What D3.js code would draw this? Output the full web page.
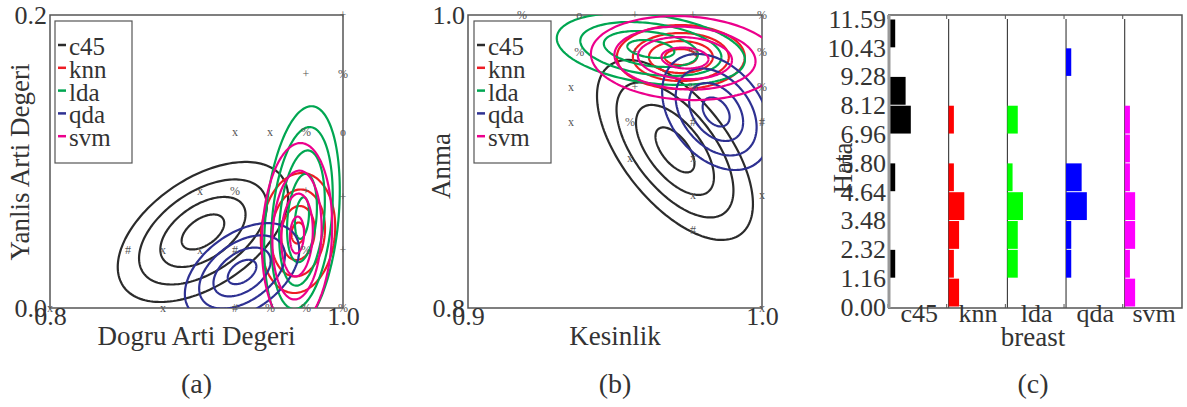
<!DOCTYPE html>
<html>
<head>
<meta charset="utf-8">
<script src="https://cdn.jsdelivr.net/npm/d3@7"></script>
<style>
  body { margin: 0; background: #fff; }
  svg text { font-family: "Liberation Serif", "Times New Roman", Tinos, "Nimbus Roman", "Noto Serif", "DejaVu Serif", serif; fill: #333; }
</style>
</head>
<body>
<svg id="chart" width="1187" height="407"></svg>
<script>
const classifiers = ["c45", "knn", "lda", "qda", "svm"];
const lineColors = ["#2b2b2b", "#ee1c24", "#00a651", "#2e3192", "#ec008c"];
const barColors = ["#000000", "#ff0000", "#00ff00", "#0000ff", "#ff00ff"];
const serif = '"Liberation Serif", "Times New Roman", Tinos, "Nimbus Roman", "Noto Serif", "DejaVu Serif", serif';

// (a) dogru arti / yanlis arti -- gaussian fit per classifier
const tprMean = [0.9044, 0.9693, 0.9720, 0.9311, 0.9686];
const fprMean = [0.0519, 0.0512, 0.0614, 0.0246, 0.0498];
const tprSd = [0.01454, 0.00635, 0.0060, 0.00976, 0.0060];
const fprSd = [0.01195, 0.01024, 0.01775, 0.00833, 0.0157];
const tprFprRho = [0.5, 0.1, 0.25, 0.45, 0.1];
const tprFprLevels = [[1, 2, 3, 4], [0.7, 1.8, 2.9, 4], [0.8, 1.7, 2.6, 3.5, 4.3], [1, 2, 3, 4], [0.8, 1.8, 2.8, 4]];
const tprFprPoints = [
    ["+", 1.0, 0.2], ["+", 0.9747, 0.16], ["%", 1.0, 0.16],
    ["x", 0.9263, 0.12], ["x", 0.9502, 0.12], ["%", 0.9747, 0.12], ["o", 1.0, 0.12],
    ["x", 0.9024, 0.08], ["%", 0.9263, 0.08], ["+", 0.9747, 0.08], ["+", 1.0, 0.076],
    ["#", 0.8532, 0.04], ["x", 0.8771, 0.04], ["x", 0.9024, 0.04], ["#", 0.9263, 0.04], ["%", 0.9747, 0.04], ["+", 1.0, 0.04],
    ["x", 0.8, 0], ["x", 0.8771, 0], ["#", 0.9263, 0], ["%", 0.9502, 0], ["%", 0.9747, 0], ["%", 1.0, 0]
];

// (b) kesinlik / anma
const precMean = [0.9704, 0.9724, 0.9622, 0.9844, 0.9738];
const recMean = [0.9079, 0.9713, 0.9768, 0.9338, 0.9706];
const precSd = [0.00663, 0.00544, 0.0080, 0.00459, 0.0080];
const recSd = [0.01536, 0.00546, 0.00614, 0.0099, 0.00717];
const precRecRho = [-0.6, 0, -0.3, -0.35, -0.1];
const precRecLevels = [[1, 2, 3, 4], [1, 2, 3, 4], [1, 2, 3, 4], [1, 2, 3, 4], [1, 2, 3, 4]];
const precRecPoints = [
    ["%", 0.9184, 1.0], ["o", 0.9378, 1.0], ["+", 0.9568, 1.0], ["+", 0.9765, 1.0], ["%", 1.0, 1.0],
    ["%", 0.9378, 0.9747], ["+", 0.9568, 0.9747], ["%", 0.9765, 0.9747], ["%", 1.0, 0.9747],
    ["x", 0.935, 0.951], ["+", 0.9568, 0.951], ["%", 0.9765, 0.951], ["%", 1.0, 0.951],
    ["x", 0.935, 0.927], ["%", 0.9551, 0.927], ["#", 0.9765, 0.927], ["#", 1.0, 0.927],
    ["x", 0.9551, 0.9024], ["x", 0.9765, 0.9024],
    ["x", 0.9765, 0.8771], ["x", 1.0, 0.8771],
    ["#", 0.9765, 0.8532],
    ["x", 1.0, 0.8]
];

// (c) hata histogram (breast), counts per bin from bottom
const hataEdges = [0.00, 1.16, 2.32, 3.48, 4.64, 5.80, 6.96, 8.12, 9.28, 10.43, 11.59];
const hataC45 = [0, 1, 0, 0, 1, 0, 4, 3, 0, 1];
const hataKnn = [2, 1, 2, 3, 1, 0, 1, 0, 0, 0];
const hataLda = [0, 2, 2, 3, 1, 0, 2, 0, 0, 0];
const hataQda = [0, 1, 1, 4, 3, 0, 0, 0, 1, 0];
const hataSvm = [2, 1, 2, 2, 1, 1, 1, 0, 0, 0];
const hataCounts = [hataC45, hataKnn, hataLda, hataQda, hataSvm];

const svg = d3.select("#chart");

function ellipsePoints(mx, my, sx, sy, rho, k) {
    const pts = [];
    const r = Math.sqrt(1 - rho * rho);
    for (let i = 0; i <= 160; i++) {
        const t = i / 160 * 2 * Math.PI;
        pts.push([mx + k * sx * Math.cos(t), my + k * sy * (rho * Math.cos(t) + r * Math.sin(t))]);
    }
    return pts;
}

function styleAxis(a) {
    a.attr("font-family", serif).attr("font-size", 26);
    a.select(".domain").remove();
    a.selectAll("text").attr("fill", "#333");
}

function drawEllipsePanel(p) {
    const x = d3.scaleLinear().domain(p.xDomain).range([p.left, p.right]);
    const y = d3.scaleLinear().domain(p.yDomain).range([p.bottom, p.top]);
    const g = svg.append("g");

    g.append("clipPath").attr("id", p.id)
        .append("rect")
        .attr("x", p.left).attr("y", p.top)
        .attr("width", p.right - p.left).attr("height", p.bottom - p.top);

    g.append("rect")
        .attr("x", p.left).attr("y", p.top)
        .attr("width", p.right - p.left).attr("height", p.bottom - p.top)
        .attr("fill", "none").attr("stroke", "#555").attr("stroke-width", 1.5);

    const line = d3.line().x(d => x(d[0])).y(d => y(d[1]));
    const plot = g.append("g").attr("clip-path", `url(#${p.id})`);

    classifiers.forEach((c, i) => {
        p.levels[i].forEach(k => {
            plot.append("path")
                .attr("d", line(ellipsePoints(p.mx[i], p.my[i], p.sx[i], p.sy[i], p.rho[i], k)))
                .attr("fill", "none")
                .attr("stroke", lineColors[i])
                .attr("stroke-width", 2.2);
        });
    });

    g.selectAll("text.mark").data(p.points).join("text")
        .attr("class", "mark")
        .attr("x", d => x(d[1])).attr("y", d => y(d[2]))
        .attr("dy", "0.35em")
        .attr("text-anchor", "middle")
        .style("font-size", "12px").style("fill", "#555")
        .text(d => d[0]);

    // end ticks only
    const ax = g.append("g").attr("transform", `translate(0,${p.bottom})`)
        .call(d3.axisBottom(x).tickValues(p.xDomain).tickSize(0).tickPadding(-1)
            .tickFormat(d3.format(".1f")));
    const ay = g.append("g").attr("transform", `translate(${p.left},0)`)
        .call(d3.axisLeft(y).tickValues(p.yDomain).tickSize(0).tickPadding(3)
            .tickFormat(d3.format(".1f")));
    styleAxis(ax);
    styleAxis(ay);

    g.append("text")
        .attr("x", (p.left + p.right) / 2).attr("y", 345)
        .attr("text-anchor", "middle").style("font-size", "27px")
        .text(p.xTitle);
    g.append("text")
        .attr("transform", `translate(${p.yTitleX},${p.yTitleY}) rotate(-90)`)
        .attr("text-anchor", "middle").style("font-size", "27px")
        .text(p.yTitle);
    g.append("text")
        .attr("x", (p.left + p.right) / 2).attr("y", 393)
        .attr("text-anchor", "middle").style("font-size", "28px")
        .text(p.caption);

    // legend
    const lg = g.append("g").attr("transform", `translate(${p.legendX},21)`);
    lg.append("rect").attr("width", 77).attr("height", 142)
        .attr("fill", "#fff").attr("stroke", "#555").attr("stroke-width", 1.2);
    classifiers.forEach((c, i) => {
        const by = 34 + i * 22.8;
        lg.append("line")
            .attr("x1", 3).attr("x2", 11).attr("y1", by - 10).attr("y2", by - 10)
            .attr("stroke", lineColors[i]).attr("stroke-width", 2.5);
        lg.append("text").attr("x", 14).attr("y", by)
            .style("font-size", "25px").text(c);
    });
}

drawEllipsePanel({
    id: "clipA", left: 50, right: 343, top: 15, bottom: 308,
    xDomain: [0.8, 1.0], yDomain: [0.0, 0.2],
    mx: tprMean, my: fprMean, sx: tprSd, sy: fprSd, rho: tprFprRho, levels: tprFprLevels,
    points: tprFprPoints,
    xTitle: "Dogru Arti Degeri", yTitle: "Yanlis Arti Degeri",
    yTitleX: 29, yTitleY: 162, caption: "(a)", legendX: 55
});

drawEllipsePanel({
    id: "clipB", left: 468, right: 762, top: 15, bottom: 308,
    xDomain: [0.9, 1.0], yDomain: [0.8, 1.0],
    mx: precMean, my: recMean, sx: precSd, sy: recSd, rho: precRecRho, levels: precRecLevels,
    points: precRecPoints,
    xTitle: "Kesinlik", yTitle: "Anma",
    yTitleX: 450, yTitleY: 166, caption: "(b)", legendX: 474
});

// (c) histogram panel
(function drawHist() {
    const top = 15, bottom = 308, left = 888, right = 1182;
    const g = svg.append("g");
    const y = d3.scaleLinear().domain([0, 11.59]).range([307, 19]);
    const band = d3.scaleBand().domain(classifiers).range([890, 1183.4]);
    const w = d3.scaleLinear().domain([0, 11.28]).range([0, band.step()]);

    classifiers.forEach((c, i) => {
        const x0 = band(c);
        if (i > 0) {
            g.append("line").attr("x1", x0).attr("x2", x0).attr("y1", 19).attr("y2", bottom)
                .attr("stroke", "#222").attr("stroke-width", 1);
        }
        hataCounts[i].forEach((n, j) => {
            if (!n) return;
            g.append("rect")
                .attr("x", x0).attr("y", y(hataEdges[j + 1]) + 0.5)
                .attr("width", w(n))
                .attr("height", y(hataEdges[j]) - y(hataEdges[j + 1]) - 1)
                .attr("fill", barColors[i]);
        });
        // small ticks on top and bottom at column starts
        g.append("line").attr("x1", x0 - 2).attr("x2", x0 - 2).attr("y1", top).attr("y2", top + 4)
            .attr("stroke", "#555");
        g.append("line").attr("x1", x0 - 2).attr("x2", x0 - 2).attr("y1", bottom).attr("y2", bottom - 4)
            .attr("stroke", "#555");
    });

    g.append("path")
        .attr("d", `M${left},${top}H${right}V${bottom}H${left}`)
        .attr("fill", "none").attr("stroke", "#555").attr("stroke-width", 1.5);
    g.append("line").attr("x1", left + 1).attr("x2", left + 1).attr("y1", top).attr("y2", bottom)
        .attr("stroke", "#999").attr("stroke-width", 3);

    const ay = g.append("g").attr("transform", `translate(${left},0)`)
        .call(d3.axisLeft(y).tickValues(hataEdges).tickSize(0).tickPadding(2)
            .tickFormat(d3.format(".2f")));
    const ax = g.append("g").attr("transform", `translate(0,${bottom})`)
        .call(d3.axisBottom(band).tickSize(0).tickPadding(-4));
    styleAxis(ax);
    styleAxis(ay);

    g.append("text").attr("x", 1033).attr("y", 346)
        .attr("text-anchor", "middle").style("font-size", "27px").text("breast");
    g.append("text")
        .attr("transform", "translate(852,168) rotate(-90)")
        .attr("text-anchor", "middle").style("font-size", "27px").text("Hata");
    g.append("text").attr("x", 1033).attr("y", 393)
        .attr("text-anchor", "middle").style("font-size", "28px").text("(c)");
})();
</script>
</body>
</html>
